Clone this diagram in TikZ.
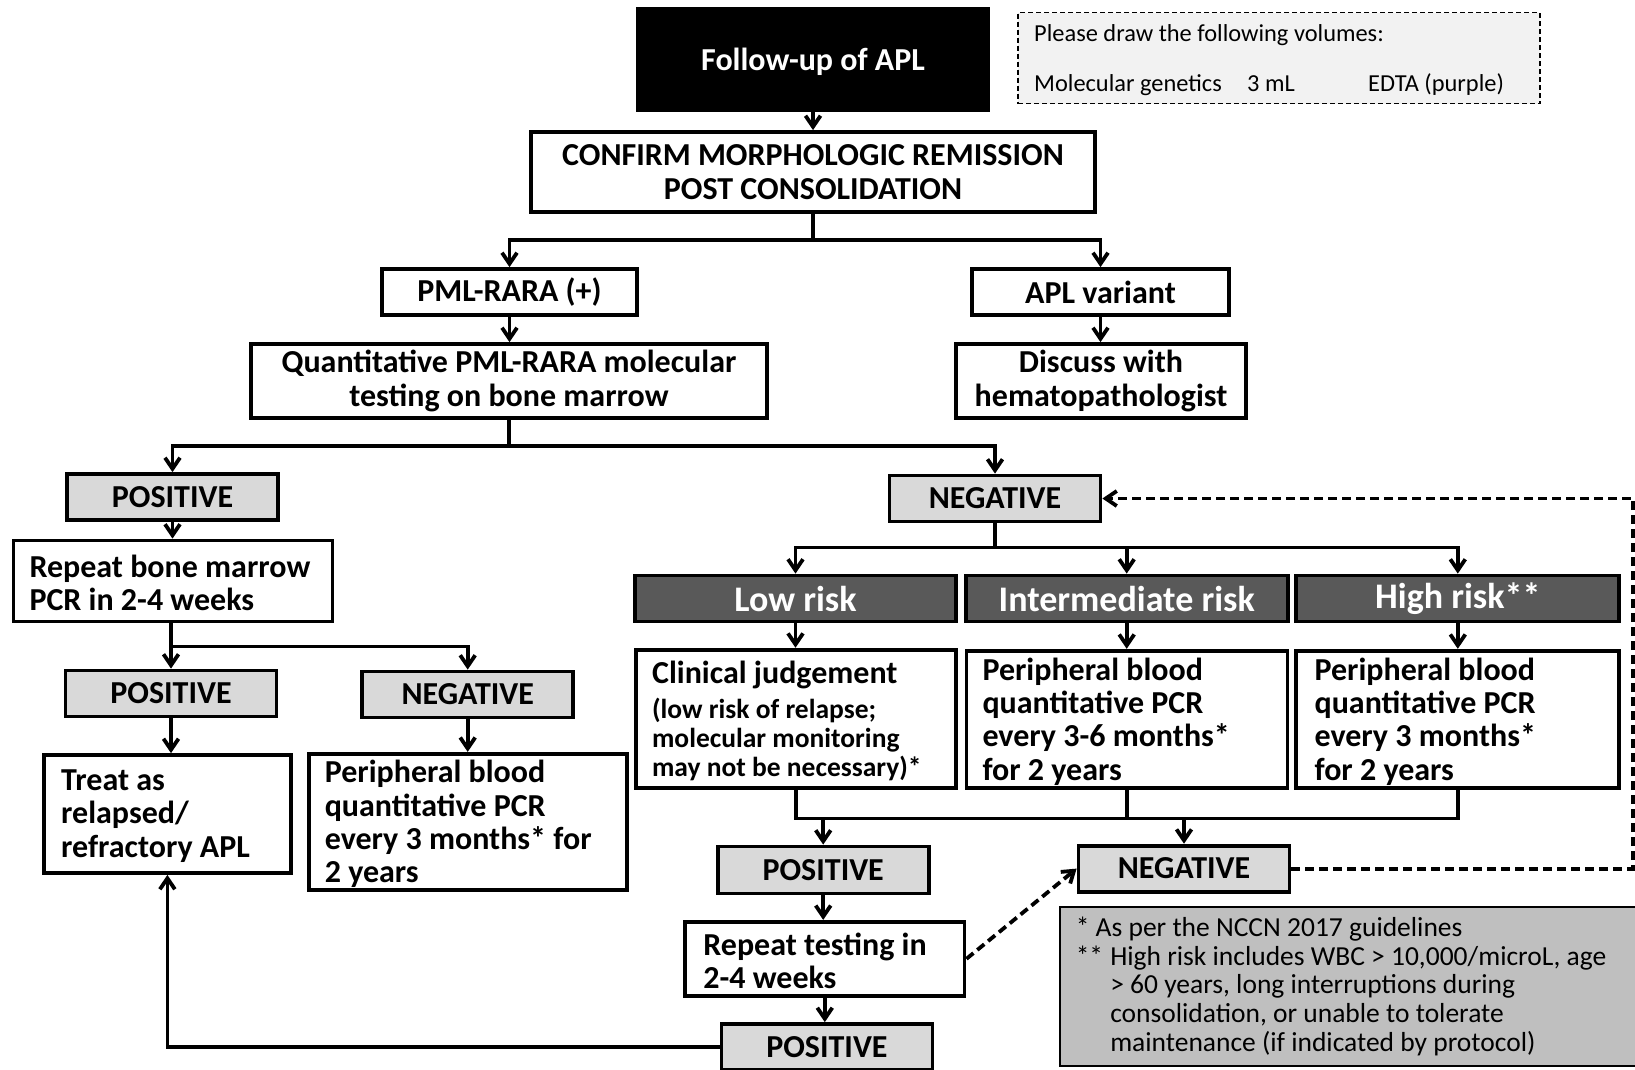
\documentclass[tikz,border=0pt]{standalone}
\usepackage{fontspec}
\setmainfont{Carlito}
\usetikzlibrary{arrows.meta}
\definecolor{lightbox}{HTML}{D9D9D9}
\definecolor{riskbox}{HTML}{595959}
\definecolor{notebox}{HTML}{BFBFBF}
\definecolor{drawbox}{HTML}{F2F2F2}
\newcommand\bigbold{\bfseries\fontsize{32}{33.4}\selectfont}
\newcommand\midbold{\bfseries\fontsize{27.5}{29.2}\selectfont}
\newcommand\riskfont{\bfseries\fontsize{36}{38}\selectfont}
\newcommand\notefont{\fontsize{27.5}{28.7}\selectfont}
\newcommand\drawfont{\fontsize{24.4}{26}\selectfont}
\tikzset{
  base/.style={draw=black, line width=3.8pt, inner sep=0pt, align=center},
  wbox/.style={base, fill=white, font=\bigbold},
  gbox/.style={base, fill=lightbox, minimum width=211pt, minimum height=46pt, font=\bigbold},
  rbox/.style={base, fill=riskbox, text=white, minimum height=46pt, font=\riskfont},
  txt/.style={inner sep=0pt, align=left, anchor=west, font=\bigbold},
  line/.style={line width=3.8pt},
  arr/.style={line, -{Straight Barb[length=11pt,width=15pt]}},
  dline/.style={line, dash pattern=on 9pt off 5pt},
  darr/.style={dline, -{Straight Barb[length=11pt,width=15pt]}},
}
\begin{document}
\begin{tikzpicture}[x=1pt,y=-1pt]
\useasboundingbox (0,0) rectangle (1635,1069);
\clip (0,0) rectangle (1635,1069);

% header and sample note
\node[base, fill=black, text=white, minimum width=350pt, minimum height=102pt, text depth=0pt, font=\bigbold] (follow) at (813,59.5) {Follow-up of APL};
\node[draw=black, line width=1.6pt, dash pattern=on 5pt off 3pt, fill=drawbox, minimum width=522pt, minimum height=91pt, inner sep=0pt] (volbox) at (1279,58) {};
\node[txt, font=\drawfont, anchor=base west] (voltitle) at (1034,41) {Please draw the following volumes:};
\node[txt, font=\drawfont, anchor=base west] (volrow) at (1034,91.5) {\makebox[213pt][l]{Molecular genetics}\makebox[121pt][l]{3 mL}EDTA (purple)};

% upper tree
\node[wbox, minimum width=564pt, minimum height=80pt] (confirm) at (813,172) {CONFIRM MORPHOLOGIC REMISSION\\POST CONSOLIDATION};
\node[wbox, minimum width=255pt, minimum height=46pt] (pml) at (509.5,292) {PML-RARA (+)};
\node[wbox, minimum width=257pt, minimum height=46pt] (aplv) at (1100.5,292) {APL variant};
\node[wbox, minimum width=516pt, minimum height=74pt] (quant) at (509,381) {Quantitative PML-RARA molecular\\testing on bone marrow};
\node[wbox, minimum width=290pt, minimum height=74pt] (discuss) at (1101,381) {Discuss with\\hematopathologist};

\coordinate (j1) at (813,240);
\coordinate (j2) at (509,446);
\draw[arr] (follow.south) -- (confirm.north);
\draw[line] (confirm.south) -- (j1);
\draw[arr] (j1) -| (pml.north);
\draw[arr] (j1) -| (aplv.north);
\draw[arr] (pml.south) -- (pml.south |- quant.north);
\draw[arr] (aplv.south) -- (aplv.south |- discuss.north);
\draw[line] (quant.south) -- (j2);

% left branch: positive result
\node[gbox] (posA) at (172.5,497) {POSITIVE};
\node[wbox, minimum width=319pt, minimum height=81pt] (rbm) at (173,581) {};
\node[txt] (rbmtext) at ([xshift=17.7pt,yshift=-2pt]rbm.west) {Repeat bone marrow\\PCR in 2-4 weeks};
\node[gbox] (posB) at (171,693.5) {POSITIVE};
\node[gbox] (negB) at (467.7,694.5) {NEGATIVE};
\node[wbox, minimum width=247pt, minimum height=118pt] (treat) at (167.4,814) {};
\node[txt] (treattext) at ([xshift=19pt,yshift=-2pt]treat.west) {Treat as\\relapsed/\\refractory APL};
\node[wbox, minimum width=318pt, minimum height=136.5pt] (perl) at (467.7,822) {};
\node[txt] (perltext) at ([xshift=17.8pt,yshift=-2pt]perl.west) {Peripheral blood\\quantitative PCR\\every 3 months* for\\2 years};

\coordinate (j3) at (171,646.5);
\draw[arr] (j2) -| (posA.north);
\draw[arr] (posA.south) -- (posA.south |- rbm.north);
\draw[line] (rbm.south -| j3) -- (j3);
\draw[arr] (j3) -- (posB.north);
\draw[arr] (j3) -| (negB.north);
\draw[arr] (posB.south) -- (posB.south |- treat.north);
\draw[arr] (negB.south) -- (negB.south |- perl.north);

% right branch: negative result and risk groups
\node[gbox] (negA) at (995,498.5) {NEGATIVE};
\node[rbox, minimum width=321pt] (low) at (795.5,598.5) {Low risk};
\node[rbox, minimum width=322pt] (inter) at (1126.7,598.5) {Intermediate risk};
\node[rbox, minimum width=323pt] (high) at (1457.8,598.5) {High risk**};
\node[wbox, minimum width=320pt, minimum height=138.7pt] (clin) at (796,719) {};
\node[txt, font=\midbold] (clintext) at ([xshift=17.8pt,yshift=-2pt]clin.west) {{\bigbold Clinical judgement}\\[5.2pt](low risk of relapse;\\molecular monitoring\\may not be necessary)*};
\node[wbox, minimum width=321pt, minimum height=137.6pt] (pbm) at (1127,719.5) {};
\node[txt] (pbmtext) at ([xshift=17.7pt,yshift=-2pt]pbm.west) {Peripheral blood\\quantitative PCR\\every 3-6 months*\\for 2 years};
\node[wbox, minimum width=323pt, minimum height=137.6pt] (pbh) at (1457.8,719.5) {};
\node[txt] (pbhtext) at ([xshift=20pt,yshift=-2pt]pbh.west) {Peripheral blood\\quantitative PCR\\every 3 months*\\for 2 years};

\coordinate (j4) at (995,547.4);
\draw[arr] (j2) -| (negA.north);
\draw[line] (negA.south) -- (j4);
\draw[arr] (j4) -| (low.north);
\draw[arr] (j4) -| (inter.north);
\draw[arr] (j4) -| (high.north);
\draw[arr] (low.south) -- (low.south |- clin.north);
\draw[arr] (inter.south) -- (inter.south |- pbm.north);
\draw[arr] (high.south) -- (high.south |- pbh.north);

% follow-up results
\node[gbox, minimum height=47pt] (pos3) at (823.2,870) {POSITIVE};
\node[gbox] (neg3) at (1184,868.6) {NEGATIVE};
\node[wbox, minimum width=279.5pt, minimum height=74pt] (rtest) at (824.8,958.8) {};
\node[txt] (rtesttext) at ([xshift=20pt,yshift=-2pt]rtest.west) {Repeat testing in\\2-4 weeks};
\node[gbox] (pos4) at (826.9,1047) {POSITIVE};

\coordinate (mL) at (796,818.5);
\coordinate (mR) at (1457.8,818.5);
\coordinate (edge) at (1633,0);
\draw[line] (clin.south) -- (mL) -- (mR) -- (pbh.south);
\draw[line] (pbm.south) -- (pbm.south |- mL);
\draw[arr] (pos3.north |- mL) -- (pos3.north);
\draw[arr] (neg3.north |- mL) -- (neg3.north);
\draw[arr] (pos3.south) -- (pos3.south |- rtest.north);
\draw[arr] (rtest.south) -- (rtest.south |- pos4.north);
\draw[arr] (pos4.west) -| (treat.south);
\draw[darr] (rtest.east) -- (neg3.west);
\draw[darr] (neg3.east) -- (neg3.east -| edge) -- (negA.east -| edge) -- (negA.east);

% footnotes
\node[draw=black, line width=2.5pt, fill=notebox, minimum width=585pt, minimum height=158.7pt, inner sep=0pt] (notes) at (1352.7,986.4) {};
\node[txt, font=\notefont] (notetext) at ([xshift=16.6pt]notes.west) {* As per the NCCN 2017 guidelines\\\makebox[34.5pt][l]{**}High risk includes WBC > 10,000/microL, age\\\hspace*{34.5pt}> 60 years, long interruptions during\\\hspace*{34.5pt}consolidation, or unable to tolerate\\\hspace*{34.5pt}maintenance (if indicated by protocol)};
\end{tikzpicture}
\end{document}
